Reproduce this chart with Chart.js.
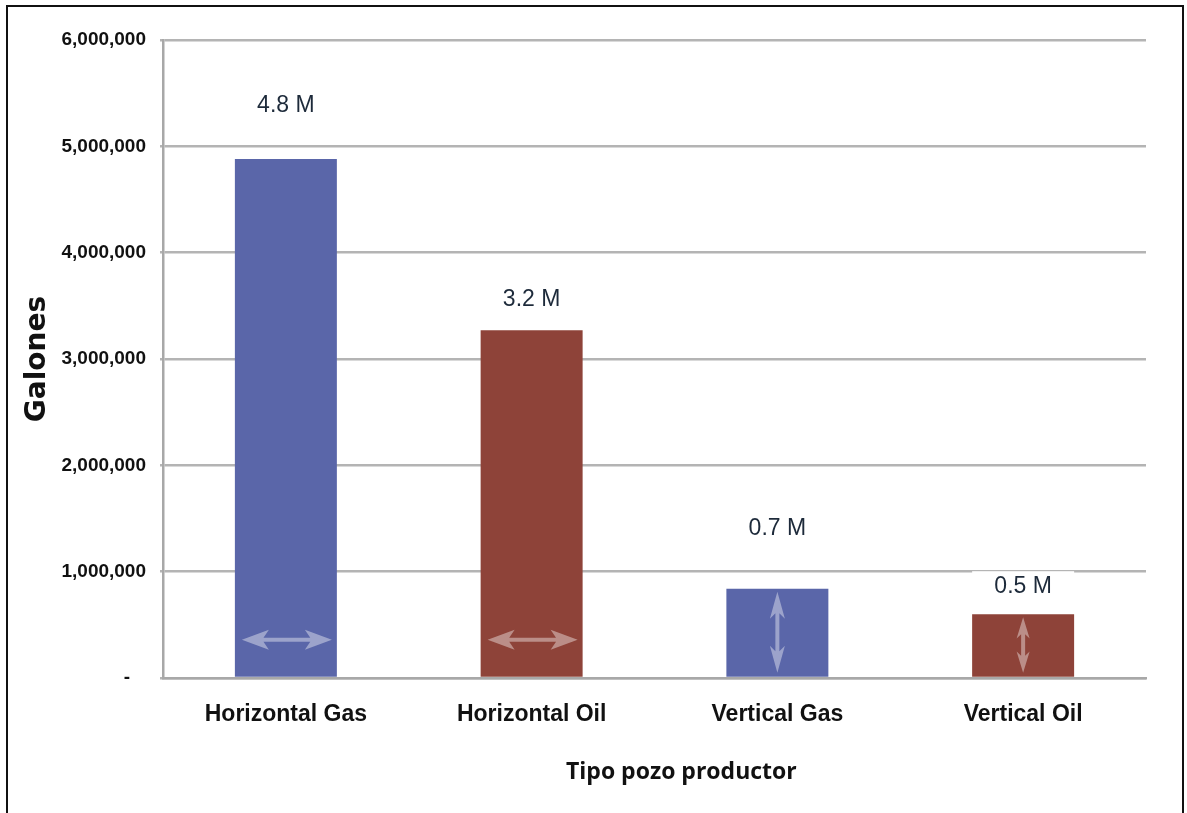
<!DOCTYPE html>
<html>
<head>
<meta charset="utf-8">
<script src="https://cdn.jsdelivr.net/npm/chart.js@4.4.1/dist/chart.umd.min.js"></script>
<style>
  html, body { margin: 0; padding: 0; background: #fff; overflow: hidden; }
  #frame { position: absolute; left: 6px; top: 5px; width: 1174px; height: 900px; border: 2px solid #111; }
  #wrap { position: absolute; left: 0; top: 0; width: 1187px; height: 813px; }
</style>
</head>
<body>
<div id="frame"></div>
<div id="wrap"><canvas id="chart" width="1187" height="813"></canvas></div>
<script>
// values
var categories = ['Horizontal Gas', 'Horizontal Oil', 'Vertical Gas', 'Vertical Oil'];
var galones = [4880000, 3270000, 840000, 600000];
var valueLabels = ['4.8 M', '3.2 M', '0.7 M', '0.5 M'];
var yTicks = [0, 1000000, 2000000, 3000000, 4000000, 5000000, 6000000];

var BLUE = '#5A66A9';
var RED = '#8E4339';
var SANS = '"Liberation Sans", Arial, sans-serif';

// value text above each bar (white box behind, like the original)
var valueLabelPlugin = {
  id: 'valueLabels',
  afterDatasetsDraw: function (chart, args, opts) {
    var ctx = chart.ctx;
    var meta = chart.getDatasetMeta(0);
    ctx.save();
    ctx.font = '23px ' + SANS;
    ctx.textAlign = 'center';
    ctx.textBaseline = 'middle';
    meta.data.forEach(function (bar, i) {
      var cy = bar.y - opts.gaps[i];
      ctx.fillStyle = '#fff';
      ctx.fillRect(bar.x - bar.width / 2, cy - 14, bar.width, 28);
      ctx.fillStyle = '#1d2a3a';
      ctx.fillText(valueLabels[i], bar.x, cy + 1);
    });
    ctx.restore();
  }
};

function arrowPath(ctx, x1, y1, x2, y2, head, half, shaft) {
  // double headed arrow from (x1,y1) to (x2,y2)
  var len = Math.hypot(x2 - x1, y2 - y1);
  ctx.save();
  ctx.translate(x1, y1);
  ctx.rotate(Math.atan2(y2 - y1, x2 - x1));
  ctx.beginPath();
  ctx.moveTo(0, 0);
  ctx.lineTo(head, -half);
  ctx.lineTo(head * 0.8, -shaft / 2);
  ctx.lineTo(len - head * 0.8, -shaft / 2);
  ctx.lineTo(len - head, -half);
  ctx.lineTo(len, 0);
  ctx.lineTo(len - head, half);
  ctx.lineTo(len - head * 0.8, shaft / 2);
  ctx.lineTo(head * 0.8, shaft / 2);
  ctx.lineTo(head, half);
  ctx.closePath();
  ctx.fill();
  ctx.restore();
}

var arrowPlugin = {
  id: 'barArrows',
  afterDatasetsDraw: function (chart, args, opts) {
    var ctx = chart.ctx;
    var meta = chart.getDatasetMeta(0);
    ctx.save();
    ctx.fillStyle = 'rgba(255,255,255,0.4)';
    meta.data.forEach(function (bar, i) {
      if (opts.dir[i] === 'h') {
        var yy = bar.base - 37;
        arrowPath(ctx, bar.x - 44, yy, bar.x + 46, yy, 27, 10, 4);
      } else {
        var h = bar.base - bar.y;
        var head = Math.min(27, h * 0.34);
        var half = h > 80 ? 7.5 : 6.5;
        arrowPath(ctx, bar.x, bar.y + 3, bar.x, bar.base - 4, head, half, 4);
      }
    });
    ctx.restore();
  }
};

new Chart(document.getElementById('chart'), {
  type: 'bar',
  data: {
    labels: categories,
    datasets: [{
      data: galones,
      backgroundColor: [BLUE, RED, BLUE, RED],
      borderWidth: 0,
      barPercentage: 0.415,
      categoryPercentage: 1.0
    }]
  },
  options: {
    responsive: false,
    animation: false,
    events: [],
    layout: { padding: { top: 40, right: 41, bottom: 0, left: 0 } },
    plugins: {
      legend: { display: false },
      tooltip: { enabled: false },
      valueLabels: { gaps: [54, 32, 61, 29] },
      barArrows: { dir: ['h', 'h', 'v', 'v'] }
    },
    scales: {
      x: {
        grid: { display: false, drawTicks: false },
        border: { display: true, color: '#a8a8a8', width: 2.5 },
        ticks: {
          color: '#111',
          padding: 23,
          font: { family: SANS, size: 23, weight: 'bold' }
        },
        title: {
          display: true,
          // leading spaces: the original title sits a little right of the plot centre
          text: '         Tipo pozo productor',
          color: '#111',
          padding: { top: 0, bottom: 27 },
          font: { family: '"Open Sans", "Noto Sans", sans-serif', size: 23, weight: 'bold' }
        },
        afterFit: function (scale) { scale.height = 135; }
      },
      y: {
        min: 0,
        max: 6000000,
        afterBuildTicks: function (scale) {
          scale.ticks = yTicks.map(function (v) { return { value: v }; });
        },
        grid: { color: '#b4b4b4', lineWidth: 2.5, tickLength: 3, drawTicks: true },
        border: { display: true, color: '#a8a8a8', width: 2.5 },
        ticks: {
          color: '#111',
          padding: 14,
          font: { family: SANS, size: 19, weight: 'bold' },
          callback: function (v) {
            return v === 0 ? '-   ' : Number(v).toLocaleString('en-US');
          }
        },
        title: {
          display: true,
          text: 'Galones',
          color: '#111',
          padding: { top: 21, bottom: 0 },
          font: { family: '"DejaVu Sans", sans-serif', size: 28, weight: 'bold' }
        },
        afterFit: function (scale) { scale.width = 163; }
      }
    }
  },
  plugins: [valueLabelPlugin, arrowPlugin]
});
</script>
</body>
</html>
